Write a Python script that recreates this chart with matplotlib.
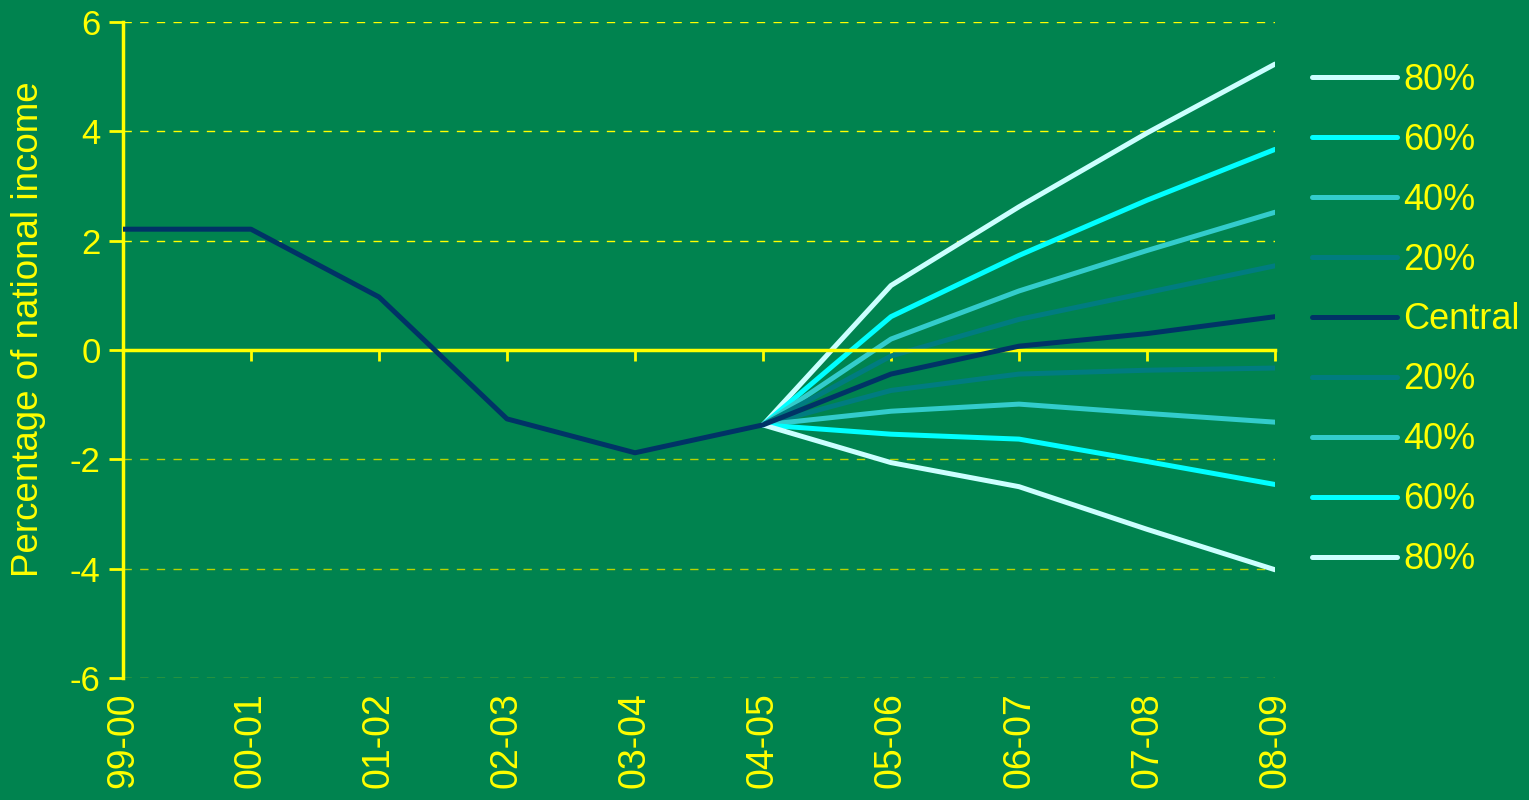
import matplotlib.pyplot as plt
import numpy as np

plt.rcParams['font.family'] = ['Liberation Sans', 'DejaVu Sans']
plt.rcParams['axes.unicode_minus'] = False

years = ['99-00', '00-01', '01-02', '02-03', '03-04', '04-05', '05-06', '06-07', '07-08', '08-09']
central = [2.21, 2.21, 0.97, -1.26, -1.88, -1.37, -0.44, 0.07, 0.30, 0.61]

# fan lines start at 04-05
fan_years = years[5:]
up80 = [-1.37, 1.18, 2.62, 3.97, 5.23]
up60 = [-1.37, 0.61, 1.73, 2.74, 3.67]
up40 = [-1.37, 0.20, 1.08, 1.82, 2.52]
up20 = [-1.37, -0.11, 0.56, 1.05, 1.54]
lo20 = [-1.37, -0.74, -0.44, -0.37, -0.33]
lo40 = [-1.37, -1.12, -0.99, -1.16, -1.32]
lo60 = [-1.37, -1.54, -1.63, -2.04, -2.46]
lo80 = [-1.37, -2.06, -2.50, -3.28, -4.02]

bg = '#00834F'
yel = '#FFFF00'
c80 = '#CCFFFF'
c60 = '#00FFFF'
c40 = '#33CCCC'
c20 = '#007C80'
cc = '#003366'

fig = plt.figure(figsize=(15.29, 8), dpi=100, facecolor=bg)
ax = fig.add_axes([0.0804, 0.1525, 0.7535, 0.82])
ax.set_facecolor(bg)

x = np.arange(len(years))
xf = x[5:]

for g in [6, 4, 2]:
    ax.axhline(g, color=yel, lw=1, dashes=(6, 6), zorder=1)
for g in [-2, -4, -6]:
    ax.axhline(g, color='#B8D400', lw=1, dashes=(6, 6), zorder=1)

lw = 3.6
h = {}
h['u80'], = ax.plot(xf, up80, color=c80, lw=lw, solid_capstyle='round', label='80%')
h['u60'], = ax.plot(xf, up60, color=c60, lw=lw, solid_capstyle='round', label='60%')
h['u40'], = ax.plot(xf, up40, color=c40, lw=lw, solid_capstyle='round', label='40%')
h['u20'], = ax.plot(xf, up20, color=c20, lw=lw, solid_capstyle='round', label='20%')
h['l20'], = ax.plot(xf, lo20, color=c20, lw=lw, solid_capstyle='round', label='20%')
h['l40'], = ax.plot(xf, lo40, color=c40, lw=lw, solid_capstyle='round', label='40%')
h['l60'], = ax.plot(xf, lo60, color=c60, lw=lw, solid_capstyle='round', label='60%')
h['l80'], = ax.plot(xf, lo80, color=c80, lw=lw, solid_capstyle='round', label='80%')
h['c'], = ax.plot(x, central, color=cc, lw=lw, solid_capstyle='round', label='Central', zorder=5)

ax.set_xlim(0, len(years) - 1)
ax.set_ylim(-6, 6)
ax.set_yticks([-6, -4, -2, 0, 2, 4, 6])
ax.tick_params(axis='y', colors=yel, labelsize=25, length=10, width=2, pad=6)
ax.set_ylabel('Percentage of national income', color=yel, fontsize=26.5)
ax.yaxis.set_label_coords(-0.067, 0.532)

for s in ['top', 'right']:
    ax.spines[s].set_visible(False)
ax.spines['left'].set_color(yel)
ax.spines['left'].set_linewidth(2.5)
ax.spines['bottom'].set_position(('data', 0))
ax.spines['bottom'].set_color(yel)
ax.spines['bottom'].set_linewidth(2.5)
ax.spines['bottom'].set_zorder(2)
ax.set_xticks(x)
ax.tick_params(axis='x', colors=yel, length=8, width=2, labelbottom=False)

sec = ax.secondary_xaxis(0)
sec.set_xticks(x)
sec.set_xticklabels(years, rotation=90, color=yel, fontsize=27)
sec.tick_params(axis='x', length=0, pad=10)
sec.spines['bottom'].set_visible(False)

order = ['u80', 'u60', 'u40', 'u20', 'c', 'l20', 'l40', 'l60', 'l80']
leg = fig.legend([h[k] for k in order], [h[k].get_label() for k in order],
                 loc='center left', bbox_to_anchor=(0.837, 0.6), frameon=False,
                 fontsize=26, handlelength=2.36, handletextpad=0.15, labelspacing=0.69)
for t in leg.get_texts():
    t.set_color(yel)

fig.savefig('out.png', dpi=100, facecolor=bg)
